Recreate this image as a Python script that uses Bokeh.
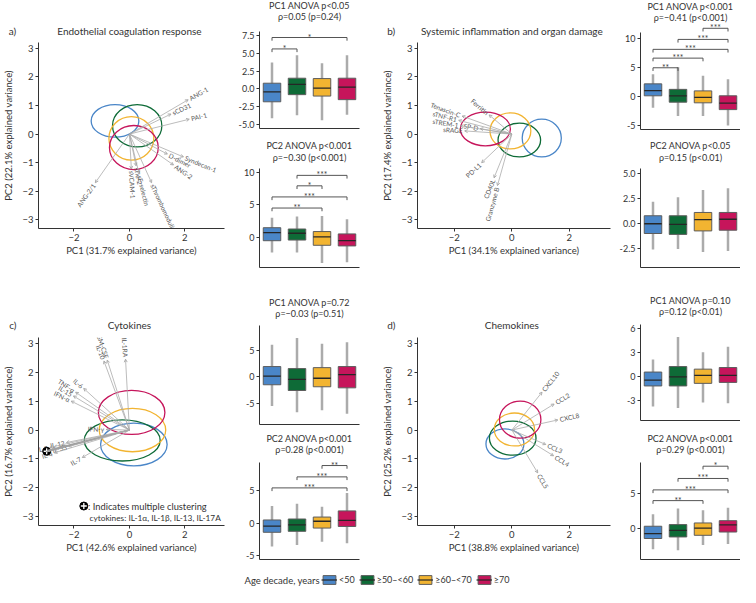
import numpy as np
from bokeh.plotting import figure
from bokeh.layouts import row, column
from bokeh.models import (Range1d, FixedTicker, Arrow, OpenHead, Label, Legend, LegendItem,
                          ColumnDataSource, PrintfTickFormatter)
from bokeh.core.properties import value
from bokeh.embed import file_html
from bokeh.resources import INLINE

FONT = "Lato"
TXT = "#333333"

# ---------------- data ----------------
groups = ["<50", "≥50–<60", "≥60–<70", "≥70"]
group_colors = ["#4A86C8", "#0E6B37", "#F2B431", "#C6155B"]
legend_title = "Age decade, years"

# panel a
a_title = "Endothelial coagulation response"
a_xlabel = "PC1 (31.7% explained variance)"
a_ylabel = "PC2 (22.1% explained variance)"
a_vars = ["ANG-1", "sCD31", "PAI-1", "Syndecan-1", "D-dimer", "ANG-2", "sThrombomodulin",
          "sE-selectin", "sTie-2", "sVCAM-1", "ANG-2/1"]
a_pc1 = [2.12, 1.50, 2.16, 1.95, 1.37, 1.59, 0.80, 0.35, 0.24, 0.07, -1.23]
a_pc2 = [1.20, 0.70, 0.52, -0.80, -0.70, -1.08, -1.70, -1.39, -1.11, -1.22, -1.70]
a_ell_x = [-0.52, 0.28, 0.07, 0.16]
a_ell_y = [0.46, 0.29, -0.15, -0.47]
a_ell_w = [1.72, 1.78, 1.62, 1.76]
a_ell_h = [1.14, 1.48, 1.52, 1.54]

# panel b
b_title = "Systemic inflammation and organ damage"
b_xlabel = "PC1 (34.1% explained variance)"
b_ylabel = "PC2 (17.4% explained variance)"
b_vars = ["Ferritin", "Tenascin-C", "sTNF-R1", "sTREM-1", "SP-D", "sRAGE", "PD-L1", "CD40L", "Granzyme B"]
b_pc1 = [-0.79, -1.73, -1.85, -1.79, -1.10, -1.64, -1.05, -0.62, -0.50]
b_pc2 = [0.67, 0.63, 0.48, 0.29, 0.19, 0.11, -1.00, -1.53, -1.80]
b_ell_x = [1.04, 0.26, -0.05, -0.92]
b_ell_y = [-0.14, -0.21, 0.11, 0.18]
b_ell_w = [1.36, 1.48, 1.42, 1.74]
b_ell_h = [1.32, 1.18, 1.26, 1.18]

# panel c
c_title = "Cytokines"
c_xlabel = "PC1 (42.6% explained variance)"
c_ylabel = "PC2 (16.7% explained variance)"
c_vars = ["IL-1RA", "GM-CSF", "IL-10", "IL-6", "TNF-α", "IL-15", "IFN-α", "IFN-γ",
          "IL-12", "IL-33", "IL-2", "IL-4", "IL-7"]
c_pc1 = [-0.14, -0.80, -0.92, -1.65, -1.94, -2.02, -2.10, -0.84, -2.27, -2.19, -2.87, -2.71, -1.70]
c_pc2 = [2.45, 2.42, 2.39, 1.44, 1.31, 1.18, 1.00, 0.02, -0.43, -0.57, -0.60, -0.79, -0.95]
c_cluster_vars = ["IL-1α", "IL-1β", "IL-13", "IL-17A"]
c_cluster_pc1 = [-2.97, -3.00, -2.95, -3.02]
c_cluster_pc2 = [-0.72, -0.75, -0.70, -0.76]
c_note = [": Indicates multiple clustering", "cytokines: IL-1α, IL-1β, IL-13, IL-17A"]
c_ell_x = [0.16, -0.26, 0.11, 0.08]
c_ell_y = [-0.50, -0.36, 0.00, 0.61]
c_ell_w = [2.40, 2.74, 2.40, 2.40]
c_ell_h = [1.48, 1.42, 1.50, 1.52]

# panel d
d_title = "Chemokines"
d_xlabel = "PC1 (38.8% explained variance)"
d_ylabel = "PC2 (25.2% explained variance)"
d_vars = ["CXCL10", "CCL2", "CXCL8", "CCL3", "CCL4", "CCL5"]
d_pc1 = [1.05, 1.47, 1.60, 1.18, 1.45, 0.90]
d_pc2 = [1.31, 0.90, 0.35, -0.50, -0.89, -1.48]
d_ell_x = [-0.24, 0.03, 0.09, 0.29]
d_ell_y = [-0.48, -0.28, 0.02, 0.36]
d_ell_w = [1.32, 1.62, 1.40, 1.44]
d_ell_h = [1.04, 1.18, 1.14, 1.28]

# boxplot statistics: whisker low, q1, median, q3, whisker high
a1_titles = ["PC1 ANOVA p<0.05", "ρ=0.05 (p=0.24)"]
a1_lo = [-4.1, -3.7, -4.4, -3.6]; a1_q1 = [-1.8, -0.8, -1.0, -1.5]; a1_med = [-0.4, 0.65, 0.1, 0.25]
a1_q3 = [0.8, 1.5, 1.45, 1.5]; a1_hi = [3.7, 4.7, 3.6, 4.7]
a1_br = [(0, 1, 5.6, "*"), (0, 3, 7.2, "*")]

a2_titles = ["PC2 ANOVA p<0.001", "ρ=−0.30 (p<0.001)"]
a2_lo = [-2.3, -2.3, -3.9, -3.8]; a2_q1 = [-0.5, -0.4, -1.2, -1.3]; a2_med = [0.74, 0.64, 0.1, -0.5]
a2_q3 = [1.49, 1.29, 0.9, 0.54]; a2_hi = [3.0, 3.2, 3.3, 2.8]
a2_br = [(1, 3, 9.5, "***"), (1, 2, 7.9, "*"), (0, 3, 6.2, "***"), (0, 2, 4.5, "**")]

b1_titles = ["PC1 ANOVA p<0.001", "ρ=−0.41 (p<0.001)"]
b1_lo = [-1.9, -3.3, -3.3, -4.9]; b1_q1 = [0.16, -0.93, -1.04, -2.2]; b1_med = [1.05, 0.16, -0.1, -1.1]
b1_q3 = [2.2, 1.26, 1.0, 0.16]; b1_hi = [3.85, 5.1, 3.6, 3.0]
b1_br = [(2, 3, 11.7, "***"), (1, 3, 9.8, "***"), (0, 3, 8.1, "***"), (0, 2, 6.6, "***"), (0, 1, 4.95, "**")]

b2_titles = ["PC2 ANOVA p<0.05", "ρ=0.15 (p<0.01)"]
b2_lo = [-2.65, -2.6, -2.9, -2.8]; b2_q1 = [-1.04, -1.13, -0.78, -0.71]; b2_med = [-0.06, -0.13, 0.36, 0.39]
b2_q3 = [0.74, 0.74, 1.07, 1.07]; b2_hi = [2.14, 2.6, 3.33, 3.5]
b2_br = []

c1_titles = ["PC1 ANOVA p=0.72", "ρ=−0.03 (p=0.51)"]
c1_lo = [-5.5, -6.7, -6.3, -7.0]; c1_q1 = [-1.52, -2.6, -1.9, -2.1]; c1_med = [0.12, -0.49, -0.3, 0.37]
c1_q3 = [1.9, 1.52, 1.7, 1.9]; c1_hi = [6.0, 7.3, 6.2, 6.5]
c1_br = []

c2_titles = ["PC2 ANOVA p<0.001", "ρ=0.28 (p<0.001)"]
c2_lo = [-3.6, -3.35, -2.85, -3.1]; c2_q1 = [-1.4, -1.25, -0.75, -0.5]; c2_med = [-0.45, -0.25, 0.3, 0.45]
c2_q3 = [0.5, 0.65, 0.95, 1.9]; c2_hi = [2.65, 3.0, 2.55, 4.65]
c2_br = [(2, 3, 8.9, "**"), (1, 3, 7.15, "***"), (0, 3, 5.45, "***")]

d1_titles = ["PC1 ANOVA p=0.10", "ρ=0.12 (p<0.01)"]
d1_lo = [-3.7, -3.9, -3.2, -3.3]; d1_q1 = [-1.16, -1.16, -0.84, -0.72]; d1_med = [-0.44, -0.04, 0.16, 0.16]
d1_q3 = [0.56, 1.24, 0.92, 1.12]; d1_hi = [2.1, 4.9, 3.0, 3.7]
d1_br = []

d2_titles = ["PC2 ANOVA p<0.001", "ρ=0.29 (p<0.001)"]
d2_lo = [-2.86, -3.0, -2.27, -2.14]; d2_q1 = [-1.36, -1.14, -0.91, -0.45]; d2_med = [-0.68, -0.23, 0.09, 0.55]
d2_q3 = [0.36, 0.59, 0.82, 1.14]; d2_hi = [2.05, 2.86, 2.6, 2.95]
d2_br = [(2, 3, 8.77, "*"), (1, 3, 7.05, "***"), (0, 3, 5.45, "***"), (0, 2, 3.95, "**")]

# ---------------- layout helpers ----------------
SX = 740 / 756
SY = 586 / 603


def X(v):
    return int(round(v * SX))


def Y(v):
    return int(round(v * SY))


def x_at(px, frame, xr):
    return xr[0] + (px - frame[0]) / (frame[2] - frame[0]) * (xr[1] - xr[0])


def y_at(py, frame, yr):
    return yr[1] - (py - frame[1]) / (frame[3] - frame[1]) * (yr[1] - yr[0])


def style_axis(ax, size="9.5px"):
    ax.axis_line_color = TXT
    ax.axis_line_width = 1
    ax.major_tick_line_color = TXT
    ax.major_tick_out = 3
    ax.major_tick_in = 0
    ax.minor_tick_line_color = None
    ax.major_label_text_font = FONT
    ax.major_label_text_font_size = size
    ax.major_label_text_color = TXT
    ax.major_label_standoff = 2
    ax.axis_label_text_font = FONT
    ax.axis_label_text_font_style = "normal"
    ax.axis_label_text_font_size = "9.5px"
    ax.axis_label_text_color = TXT


def new_fig(box, frame, xr, yr):
    bx0, by0, bx1, by1 = box
    fx0, fy0, fx1, fy1 = frame
    p = figure(width=X(bx1) - X(bx0), height=Y(by1) - Y(by0),
               x_range=Range1d(*xr), y_range=Range1d(*yr),
               output_backend="svg", toolbar_location=None, title_location=None,
               min_border_left=X(fx0) - X(bx0), min_border_right=X(bx1) - X(fx1),
               min_border_top=Y(fy0) - Y(by0), min_border_bottom=Y(by1) - Y(fy1))
    p.xgrid.visible = False
    p.ygrid.visible = False
    p.outline_line_color = None
    p.background_fill_color = "white"
    p.border_fill_color = "white"
    for ax in p.axis:
        style_axis(ax)
    return p


def top_label(p, x, y, text, align, size):
    # placed in the "above" side panel so that it is not clipped to the frame
    p.add_layout(Label(x=x, y=y, text=text, text_align=align, text_baseline="middle",
                       text_font=FONT, text_font_size=size, text_color=TXT), "above")


BX = (-3.28, 3.43)
BY = (-3.3, 3.2)


def biplot(box, frame, letter, letter_px, title, title_py, xlabel, ylabel,
           names, pc1, pc2, ex, ey, ew, eh, cluster=None):
    p = new_fig(box, frame, BX, BY)
    p.xaxis.ticker = FixedTicker(ticks=[-2, 0, 2])
    p.yaxis.ticker = FixedTicker(ticks=[-3, -2, -1, 0, 1, 2, 3])
    p.xaxis.axis_label = xlabel
    p.yaxis.axis_label = ylabel
    p.xaxis.axis_label_standoff = 1
    p.yaxis.axis_label_standoff = 5
    p.ellipse(x=ex, y=ey, width=ew, height=eh, fill_color=None,
              line_color=group_colors, line_width=1.3)
    x1 = np.array(pc1, dtype=float)
    y1 = np.array(pc2, dtype=float)
    if cluster is not None:
        cx, cy = np.array(cluster[0]), np.array(cluster[1])
        csrc = ColumnDataSource(dict(x0=np.zeros(len(cx)), y0=np.zeros(len(cx)), x1=cx, y1=cy))
        p.add_layout(Arrow(end=None, x_start="x0", y_start="y0", x_end="x1", y_end="y1",
                           source=csrc, line_color="#a0a0a0", line_width=1.1))
    src = ColumnDataSource(dict(x0=np.zeros(len(x1)), y0=np.zeros(len(x1)), x1=x1, y1=y1))
    p.add_layout(Arrow(end=OpenHead(size=3, line_color="#9a9a9a", line_width=0.8),
                       x_start="x0", y_start="y0", x_end="x1", y_end="y1", source=src,
                       line_color="#ababab", line_width=0.8))
    ln = np.hypot(x1, y1)
    lx = x1 + 0.07 * x1 / ln
    ly = y1 + 0.07 * y1 / ln
    ang = np.arctan(y1 / x1)
    names = np.array(names)
    for mask, align in ((x1 >= 0, "left"), (x1 < 0, "right")):
        if mask.any():
            s = ColumnDataSource(dict(x=lx[mask], y=ly[mask], t=names[mask], a=ang[mask]))
            p.text(x="x", y="y", text="t", angle="a", source=s, text_align=align,
                   text_baseline="middle", text_font=value(FONT), text_font_size=value("6.5px"),
                   text_color="#555555")
    if cluster is not None:
        p.scatter(x=[cx.mean()], y=[cy.mean()], marker="circle", size=8,
                  fill_color="black", line_color="black")
        p.scatter(x=[cx.mean()], y=[cy.mean()], marker="cross", size=6,
                  line_color="white", line_width=1.3)
    ty = y_at(title_py, frame, BY)
    top_label(p, 0, ty, title, "center", "10px")
    top_label(p, x_at(letter_px, frame, BX), ty, letter, "left", "10px")
    return p


def boxfig(box, frame, yr, ticks, fmt, lo, q1, med, q3, hi, brackets, titles,
           title_pys, bound_top=None):
    p = new_fig(box, frame, (0, 4), yr)
    xs = np.arange(len(groups)) + 0.5
    p.yaxis.ticker = FixedTicker(ticks=ticks)
    p.yaxis.formatter = PrintfTickFormatter(format=fmt)
    p.yaxis.major_label_text_font_size = "9px"
    if bound_top is not None:
        p.yaxis.bounds = (yr[0], bound_top)
    xa = p.xaxis[0]
    xa.major_tick_line_color = None
    xa.major_label_text_font_size = "0px"
    xa.major_label_standoff = 0
    xa.ticker = FixedTicker(ticks=[])
    p.segment(x0=xs, y0=lo, x1=xs, y1=hi, line_color="#ababab", line_width=2.5)
    p.vbar(x=xs, bottom=q1, top=q3, width=0.7, fill_color=group_colors,
           line_color="#5c5c5c", line_width=1)
    p.segment(x0=xs - 0.35, y0=med, x1=xs + 0.35, y1=med, line_color="#262626", line_width=1.3)
    if brackets:
        tick = 3.3 / (frame[3] - frame[1]) * (yr[1] - yr[0])
        sx0, sy0, sx1, sy1, tx, ty, tt = [], [], [], [], [], [], []
        for i, j, yv, lab in brackets:
            sx0 += [xs[i], xs[i], xs[j]]
            sx1 += [xs[j], xs[i], xs[j]]
            sy0 += [yv, yv, yv]
            sy1 += [yv, yv - tick, yv - tick]
            tx.append((xs[i] + xs[j]) / 2)
            ty.append(yv)
            tt.append(lab)
        p.segment(x0=sx0, y0=sy0, x1=sx1, y1=sy1, line_color="#555555", line_width=1)
        p.text(x=tx, y=ty, text=tt, text_align="center", text_baseline="alphabetic",
               text_font=value(FONT), text_font_size=value("8.5px"), text_color="#444444")
    for t, py in zip(titles, title_pys):
        top_label(p, 2, y_at(py, frame, yr), t, "center", "9px")
    return p


# ---------------- row 1 ----------------
fa = (32, 43, 229, 235)
pa = biplot((0, 0, 236, 290), fa, "a)", 0.5, a_title, 31.5, a_xlabel, a_ylabel,
            a_vars, a_pc1, a_pc2, a_ell_x, a_ell_y, a_ell_w, a_ell_h)
pa1 = boxfig((236, 0, 380, 141), (265, 32, 367, 132), (-5.54, 8.04),
             [-5, -2.5, 0, 2.5, 5, 7.5], "%.1f",
             a1_lo, a1_q1, a1_med, a1_q3, a1_hi, a1_br, a1_titles, [5.5, 16.5])
pa2 = boxfig((236, 141, 380, 290), (265, 173, 367, 275), (-4.6, 10.55), [0, 5, 10], "%d",
             a2_lo, a2_q1, a2_med, a2_q3, a2_hi, a2_br, a2_titles, [149, 162])
fb = (426, 43, 623, 235)
pb = biplot((380, 0, 628, 290), fb, "b)", 395, b_title, 31.5, b_xlabel, b_ylabel,
            b_vars, b_pc1, b_pc2, b_ell_x, b_ell_y, b_ell_w, b_ell_h)
pb1 = boxfig((628, 0, 756, 141), (654, 22, 756, 133), (-5.6, 12.69), [-5, 0, 5, 10], "%d",
             b1_lo, b1_q1, b1_med, b1_q3, b1_hi, b1_br, b1_titles, [5.5, 16.5], bound_top=10.9)
pb2 = boxfig((628, 141, 756, 290), (654, 173, 756, 275), (-4.45, 5.48),
             [-2.5, 0, 2.5, 5], "%.1f",
             b2_lo, b2_q1, b2_med, b2_q3, b2_hi, b2_br, b2_titles, [149, 162])

# ---------------- row 2 ----------------
fc = (32, 347, 229, 540)
pc = biplot((0, 290, 236, 580), fc, "c)", 1, c_title, 334.3, c_xlabel, c_ylabel,
            c_vars, c_pc1, c_pc2, c_ell_x, c_ell_y, c_ell_w, c_ell_h,
            cluster=(c_cluster_pc1, c_cluster_pc2))
mx, my = x_at(80, fc, BX), y_at(520, fc, BY)
pc.scatter(x=[mx], y=[my], marker="circle", size=8, fill_color="black", line_color="black")
pc.scatter(x=[mx], y=[my], marker="cross", size=6, line_color="white", line_width=1.3)
pc.add_layout(Label(x=x_at(84.5, fc, BX), y=my, text=c_note[0], text_align="left",
                    text_baseline="middle", text_font=FONT, text_font_size="9.3px", text_color=TXT))
pc.add_layout(Label(x=x_at(86, fc, BX), y=y_at(532.5, fc, BY), text=c_note[1], text_align="left",
                    text_baseline="middle", text_font=FONT, text_font_size="8.3px", text_color=TXT))

pc1f = boxfig((236, 290, 380, 445), (265, 334, 367, 436), (-9.0, 9.63), [-5, 0, 5], "%d",
              c1_lo, c1_q1, c1_med, c1_q3, c1_hi, c1_br, c1_titles, [310, 321.7])
pc2f = boxfig((236, 445, 380, 580), (265, 468, 367, 575), (-5.6, 10.45), [-5, 0, 5], "%d",
              c2_lo, c2_q1, c2_med, c2_q3, c2_hi, c2_br, c2_titles, [450, 461.7], bound_top=9.4)
fd = (426, 347, 623, 540)
pd_ = biplot((380, 290, 628, 580), fd, "d)", 395, d_title, 334.3, d_xlabel, d_ylabel,
             d_vars, d_pc1, d_pc2, d_ell_x, d_ell_y, d_ell_w, d_ell_h)
pd1 = boxfig((628, 290, 756, 445), (654, 333, 756, 432), (-5.44, 6.45), [-3, 0, 3, 6], "%d",
             d1_lo, d1_q1, d1_med, d1_q3, d1_hi, d1_br, d1_titles, [308.5, 320])
pd2 = boxfig((628, 445, 756, 580), (654, 468, 756, 575), (-4.3, 10.27), [0, 5], "%d",
             d2_lo, d2_q1, d2_med, d2_q3, d2_hi, d2_br, d2_titles, [450, 462], bound_top=9.3)

# ---------------- legend row ----------------
LW, LH = X(756), Y(603) - Y(580)
leg = figure(width=LW, height=LH, x_range=Range1d(0, LW), y_range=Range1d(0, LH),
             output_backend="svg", toolbar_location=None, min_border=0, title_location=None,
             x_axis_location=None, y_axis_location=None)
leg.grid.visible = False
leg.outline_line_color = None
items = []
for g, col in zip(groups, group_colors):
    r1 = leg.vbar(x=[np.nan], bottom=[np.nan], top=[np.nan], width=0.7, fill_color=col,
                  line_color="#5c5c5c", line_width=1)
    r2 = leg.segment(x0=[np.nan], y0=[np.nan], x1=[np.nan], y1=[np.nan],
                     line_color="#262626", line_width=1.2)
    items.append(LegendItem(label=g, renderers=[r1, r2]))
legend = Legend(items=items, location=(X(328), 1), orientation="horizontal",
                glyph_width=16, glyph_height=11, label_standoff=2, spacing=4,
                padding=0, margin=0, border_line_color=None, background_fill_alpha=0,
                label_text_font=FONT, label_text_font_size="9px", label_text_color=TXT,
                label_height=11, label_width=10)
leg.add_layout(legend)
leg.add_layout(Label(x=X(249), y=LH - Y(16), text=legend_title, text_align="left",
                     text_baseline="middle", text_font=FONT, text_font_size="9.5px", text_color=TXT))

layout = column(
    row(pa, column(pa1, pa2), pb, column(pb1, pb2)),
    row(pc, column(pc1f, pc2f), pd_, column(pd1, pd2)),
    leg,
)

open("out.html", "w").write(file_html(layout, INLINE))
